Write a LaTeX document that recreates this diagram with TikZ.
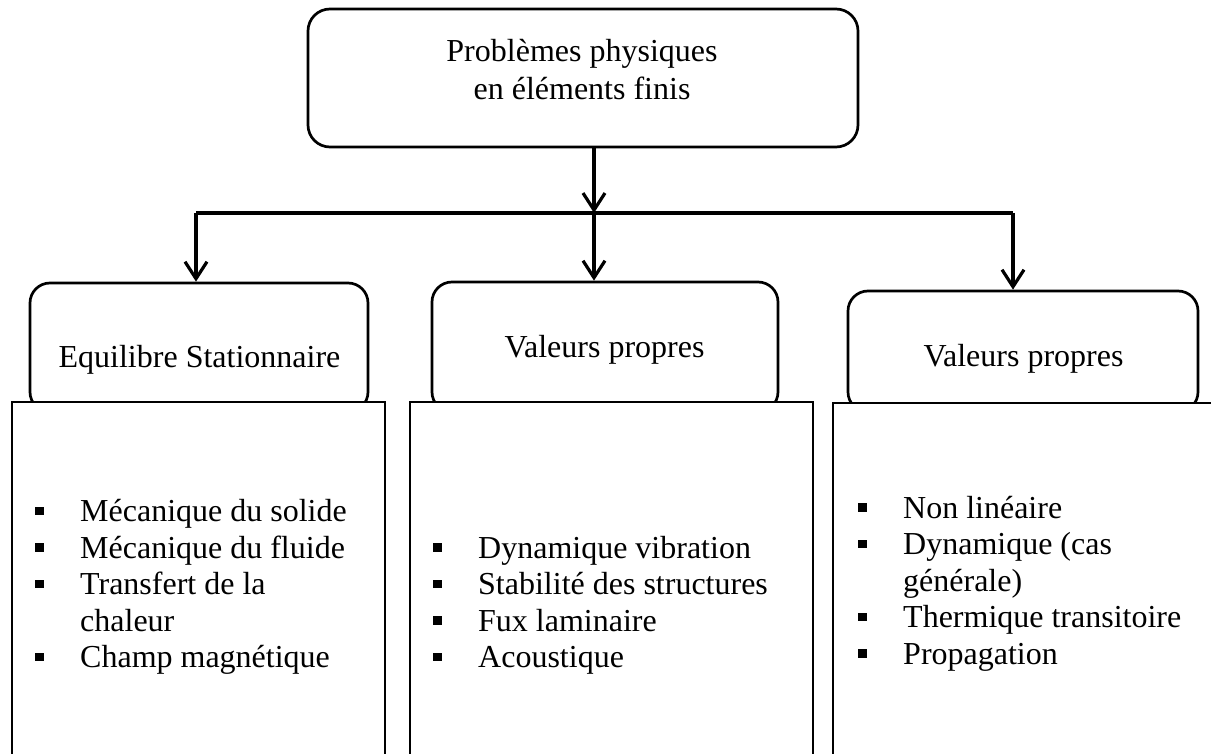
\documentclass[tikz,border=0pt]{standalone}
\usepackage{fontspec}
\setmainfont{Liberation Serif}
\usetikzlibrary{arrows.meta}
\newcommand{\sqb}{\makebox[45pt][l]{\raisebox{6.5pt}{\rule{8.5pt}{8.5pt}}}}
\newcommand{\ind}{\hspace*{45pt}}
\begin{document}
\begin{tikzpicture}[x=1pt,y=-1pt,
  rbox/.style={draw, line width=2.7pt, fill=white, rounded corners=20pt, inner sep=0pt},
  rectbox/.style={draw, line width=2.7pt, fill=white, inner sep=0pt},
  txt/.style={inner sep=0pt, font=\fontsize{32}{36.6}\selectfont},
  conn/.style={line width=3.2pt},
  arr/.style={conn, -{Straight Barb[length=17pt,width=22pt,line width=3.2pt]}}]
\useasboundingbox (0,0) rectangle (1211,754);
\clip (0,0) rectangle (1211,754);
% top box
\node[rbox, rounded corners=22pt, minimum width=550pt, minimum height=138pt] (top) at (583,78) {};
\node[txt, anchor=base, font=\fontsize{32}{38}\selectfont] (toptxt) at (582,62)
  {\begin{tabular}[t]{@{}c@{}}Problèmes physiques\\en éléments finis\end{tabular}};
% round boxes
\node[rbox, minimum width=338pt, minimum height=129pt] (lhead) at (199,347.5) {};
\node[rbox, minimum width=346pt, minimum height=130pt] (mhead) at (605,347) {};
\node[rbox, minimum width=350pt, minimum height=121pt] (rhead) at (1023,351.5) {};
% rectangles
\node[rectbox, minimum width=373pt, minimum height=378pt] (lbody) at (198.5,591) {};
\node[rectbox, minimum width=403pt, minimum height=378pt] (mbody) at (611.5,591) {};
\node[rectbox, minimum width=392pt, minimum height=378pt] (rbody) at (1029,592) {};
% head texts
\node[txt, anchor=base] (ltitle) at (199.5,367) {Equilibre Stationnaire};
\node[txt, anchor=base] (mtitle) at (604.5,357) {Valeurs propres};
\node[txt, anchor=base] (rtitle) at (1023.5,366) {Valeurs propres};
% lists
\node[txt, anchor=base west] (llist) at (35,521.5)
  {\begin{tabular}[t]{@{}l@{}}\sqb Mécanique du solide\\ \sqb Mécanique du fluide\\ \sqb Transfert de la\\ \ind chaleur\\ \sqb Champ magnétique\end{tabular}};
\node[txt, anchor=base west] (mlist) at (433,558)
  {\begin{tabular}[t]{@{}l@{}}\sqb Dynamique vibration\\ \sqb Stabilité des structures\\ \sqb Fux laminaire\\ \sqb Acoustique\end{tabular}};
\node[txt, anchor=base west] (rlist) at (858,518)
  {\begin{tabular}[t]{@{}l@{}}\sqb Non linéaire\\ \sqb Dynamique (cas\\ \ind générale)\\ \sqb Thermique transitoire\\ \sqb Propagation\end{tabular}};
% connectors
\coordinate (jl) at (196,213);
\coordinate (jm) at (594,213);
\coordinate (jr) at (1013,213);
\draw[conn] (jl) -- (jr);
\draw[arr] (top.south -| jm) -- (jm);
\draw[arr] (jm) -- (jm |- mhead.north);
\draw[arr] (jl) -- (jl |- lhead.north);
\draw[arr] (jr) -- (jr |- rhead.north);
\end{tikzpicture}
\end{document}
